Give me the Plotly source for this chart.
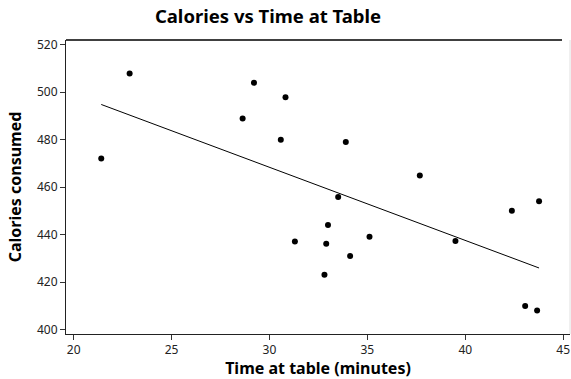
import numpy as np
import plotly.graph_objects as go

time_at_table = [21.41, 22.86, 29.21, 30.82, 28.63, 30.58, 33.90, 33.51, 32.99, 31.30,
                 32.90, 35.11, 34.12, 32.81, 37.68, 39.50, 42.38, 43.77, 43.06, 43.67]
calories = [472.1, 507.9, 504.0, 497.9, 488.9, 480.0, 479.0, 455.9, 444.1, 437.2,
            436.2, 439.1, 431.0, 423.2, 464.9, 437.4, 450.1, 454.1, 410.0, 408.1]
x_ticks = [20, 25, 30, 35, 40, 45]
y_ticks = [400, 420, 440, 460, 480, 500, 520]

xa = np.array(time_at_table)
ya = np.array(calories)
slope, intercept = np.polyfit(xa, ya, 1)
fit_x = [xa.min(), xa.max()]
fit_y = [intercept + slope * v for v in fit_x]

FONT = "Noto Sans"

fig = go.Figure()
fig.add_trace(go.Scatter(x=fit_x, y=fit_y, mode="lines",
                         line=dict(color="black", width=1), hoverinfo="skip"))
fig.add_trace(go.Scatter(x=time_at_table, y=calories, mode="markers",
                         marker=dict(color="black", size=6)))

fig.update_layout(
    width=571, height=379,
    margin=dict(l=66, r=1, t=40, b=45),
    paper_bgcolor="white", plot_bgcolor="white",
    showlegend=False,
    font=dict(family=FONT, size=12, color="#222"),
    title=dict(text="<b>Calories vs Time at Table</b>", x=268 / 571, xanchor="center",
               y=1 - 17 / 379, yanchor="middle",
               font=dict(family=FONT, size=18.5, color="black")),
    xaxis=dict(range=[19.61, 45.35], tickvals=x_ticks, ticks="outside", ticklen=5,
               tickcolor="#333", showline=True, linecolor="#222", linewidth=1,
               showgrid=False, zeroline=False,
               title=dict(text="<b>Time at table (minutes)</b>", standoff=1,
                          font=dict(family=FONT, size=16, color="black"))),
    yaxis=dict(range=[398.2, 522], tickvals=y_ticks, ticks="outside", ticklen=5,
               tickcolor="#333", showline=True, linecolor="#222", linewidth=1,
               showgrid=False, zeroline=False,
               title=dict(text="<b>Calories consumed</b>", standoff=11,
                          font=dict(family=FONT, size=16, color="black"))),
    shapes=[
        dict(type="line", xref="paper", yref="paper", x0=0, x1=(562 - 66) / 504,
             y0=1, y1=1, line=dict(color="black", width=1.5)),
        dict(type="line", xref="paper", yref="paper", x0=1, x1=1,
             y0=0, y1=1, line=dict(color="#e0e0e0", width=1)),
    ],
)

fig.write_html("out.html")
